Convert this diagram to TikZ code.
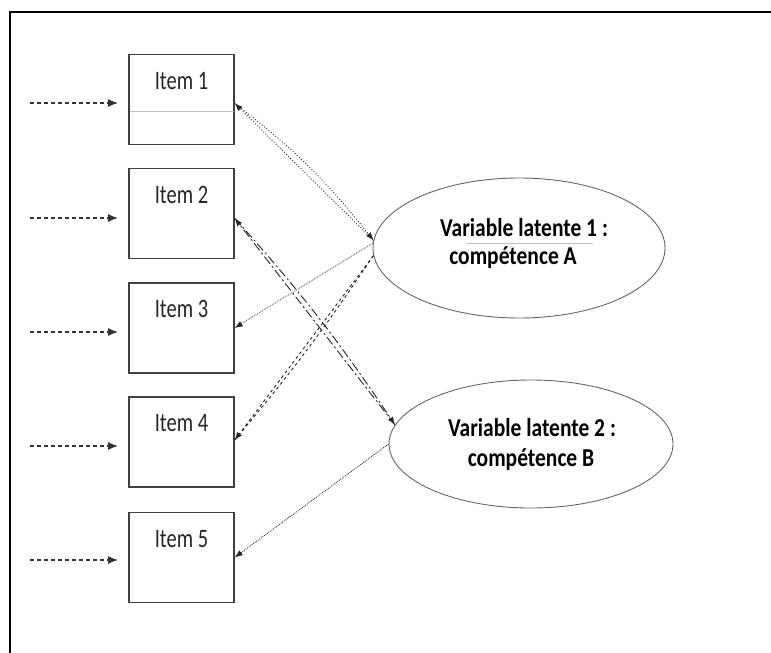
\documentclass[tikz,border=0pt]{standalone}
\usepackage{fontspec}
\setmainfont{Carlito}
\usetikzlibrary{shapes.geometric,arrows.meta}
\begin{document}
\begin{tikzpicture}[x=1pt,y=-1pt,
  itembox/.style={draw=black!75, line width=1.3pt, minimum width=105pt, minimum height=90pt, inner sep=0pt},
  itemtxt/.style={inner sep=0pt, font=\fontsize{20.5}{22}\selectfont, text=black!85},
  latent/.style={ellipse, draw=black!60, line width=0.9pt, minimum width=292pt, minimum height=140pt, inner sep=0pt},
  lattxt/.style={inner sep=0pt, font=\bfseries\fontsize{21.5}{26}\selectfont},
  inarrow/.style={draw=black!80, line width=1.1pt, dash pattern=on 4pt off 3pt, -{Latex[length=10pt,width=8pt]}},
  tip/.style={-{Latex[length=8pt,width=6pt]}},
  conn/.style={draw=black!85, line width=0.9pt}
]
\useasboundingbox (0,0) rectangle (771,653);
\draw[line width=2pt] (10,653) -- (10,12) -- (771,12);

% items
\node[itembox] (i1) at (181.5,99.5) {};
\node[itembox] (i2) at (181.5,213.5) {};
\node[itembox] (i3) at (181.5,328) {};
\node[itembox] (i4) at (181.5,442) {};
\node[itembox] (i5) at (181.5,557.5) {};
\node[itemtxt, yshift=-27pt] (t1) at (i1.north) {\scalebox{1}[1.3]{Item 1}};
\node[itemtxt, yshift=-27pt] (t2) at (i2.north) {\scalebox{1}[1.3]{Item 2}};
\node[itemtxt, yshift=-27pt] (t3) at (i3.north) {\scalebox{1}[1.3]{Item 3}};
\node[itemtxt, yshift=-27pt] (t4) at (i4.north) {\scalebox{1}[1.3]{Item 4}};
\node[itemtxt, yshift=-27pt] (t5) at (i5.north) {\scalebox{1}[1.3]{Item 5}};
\draw[black!25, line width=0.8pt] (130,111) -- (234,111);

% input arrows
\coordinate (a1) at (30,103);  \coordinate (b1) at (118,103);
\coordinate (a2) at (30,218);  \coordinate (b2) at (118,218);
\coordinate (a3) at (30,332);  \coordinate (b3) at (118,332);
\coordinate (a4) at (30,446);  \coordinate (b4) at (118,446);
\coordinate (a5) at (30,560);  \coordinate (b5) at (118,560);
\foreach \k in {1,...,5} \draw[inarrow] (a\k) -- (b\k);

% latent variables
\node[latent] (e1) at (519,248) {};
\node[lattxt] (l1a) at (524,228) {\scalebox{1}[1.2]{Variable latente 1 :}};
\node[lattxt] (l1b) at (513,258) {\scalebox{1}[1.2]{compétence A}};
\draw[black!25, line width=0.8pt] (467,243) -- (593,243);
\node[latent, minimum width=284pt, minimum height=128pt] (e2) at (531,444) {};
\node[lattxt] (l2a) at (532,428) {\scalebox{1}[1.2]{Variable latente 2 :}};
\node[lattxt] (l2b) at (531,460) {\scalebox{1}[1.2]{compétence B}};

% connectors
\draw[conn, dotted, tip] (e1.177) -- (i1.-4);
\draw[conn, dotted, tip] (i1.-4) to[bend left=7] (e1.177);
\draw[conn, densely dotted, line width=0.7pt, tip] (e1.178) -- (i3.east);
\draw[conn, dashed, tip] (e1.183) -- (i4.2);
\draw[conn, dashed] (e1.183) to[bend left=3] (i4.2);
\draw[conn, dash pattern=on 9pt off 3pt on 2pt off 3pt, tip] (e2.172) -- (i2.-5);
\draw[conn, dash pattern=on 9pt off 3pt on 2pt off 3pt, tip] (i2.-5) to[bend left=4] (e2.172);
\draw[conn, densely dotted, line width=0.8pt, tip] (e2.180) -- (i5.east);
\end{tikzpicture}
\end{document}
